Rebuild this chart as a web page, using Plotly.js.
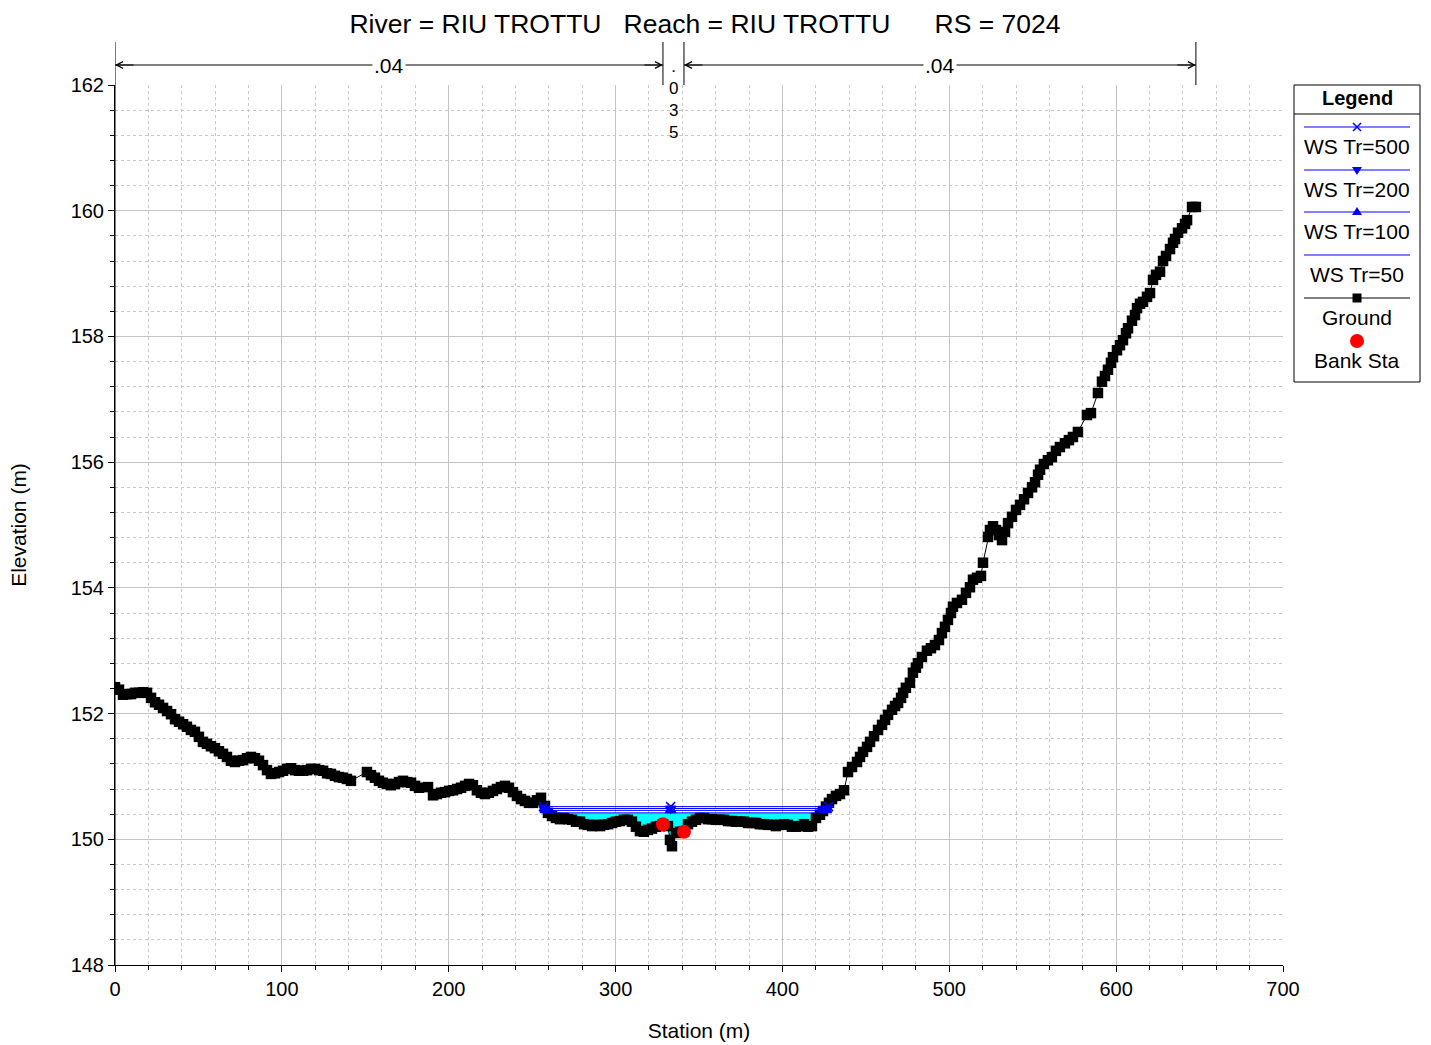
<!DOCTYPE html>
<html>
<head>
<meta charset="utf-8">
<script src="https://cdn.plot.ly/plotly-3.0.1.min.js"></script>
<style>html,body{margin:0;padding:0;background:#fff;}#chart{width:1431px;height:1045px;}</style>
</head>
<body>
<div id="chart"></div>
<script>
// ---------------- DATA ----------------
const chartTitle = "River = RIU TROTTU\u00a0\u00a0\u00a0Reach = RIU TROTTU\u00a0\u00a0\u00a0\u00a0\u00a0\u00a0RS = 7024";

const groundStation = [
  0, 2.4, 4.8, 7.2, 9.6, 12.0, 14.4, 16.8, 19.2, 21.6, 24.0, 26.4, 28.8, 31.2, 33.6, 36.0, 38.4, 40.8, 43.1, 45.5,
  47.9, 50.3, 52.7, 55.1, 57.5, 59.9, 62.3, 64.7, 67.1, 69.5, 71.9, 74.3, 76.7, 79.1, 81.5, 83.9, 86.3, 88.7, 91.1, 93.5,
  95.9, 98.3, 100.7, 103.1, 105.5, 107.9, 110.3, 112.7, 115.1, 117.5, 119.9, 122.3, 124.7, 127.1, 129.4, 131.8, 134.2, 136.6, 139.0, 141.4,
  151.0, 153.4, 155.8, 158.2, 160.6, 163.0, 165.4, 167.8, 170.2, 172.6, 175.0, 177.4, 179.8, 182.2, 187.6, 190.6, 193.0, 195.4, 197.8, 200.2,
  202.6, 205.0, 207.4, 209.8, 212.2, 214.5, 216.9, 219.3, 221.7, 224.1, 226.5, 228.9, 231.3, 233.7, 236.1, 238.5, 240.9, 243.3, 245.7, 248.1,
  250.5, 252.9, 255.3, 257.7, 259.5, 261.9, 264.3, 266.7, 269.1, 271.5, 273.9, 276.3, 278.7, 281.1, 283.5, 285.9, 288.3, 290.7, 293.1, 295.5,
  297.9, 300.2, 302.6, 305.0, 307.4, 309.8, 312.2, 314.6, 317.0, 319.4, 321.8, 324.2, 326.6, 328.4, 331.4, 332.6, 333.8, 336.2, 338.6, 341.0,
  343.4, 345.8, 348.2, 350.6, 353.0, 355.4, 357.8, 360.2, 362.6, 365.0, 367.4, 369.8, 372.2, 374.6, 377.0, 379.4, 381.8, 384.2, 386.5, 388.9,
  391.3, 393.7, 396.1, 398.5, 400.9, 403.3, 405.7, 408.1, 410.5, 412.9, 415.3, 417.7, 420.1, 422.5, 424.3, 426.1, 427.9, 429.7, 432.1, 434.5,
  436.9, 439.3, 441.7, 444.7, 446.5, 448.3, 450.7, 452.5, 454.9, 457.3, 459.7, 461.5, 463.3, 465.7, 467.5, 469.3, 471.1, 472.3, 474.0, 476.4,
  478.2, 480.0, 481.2, 483.6, 486.6, 489.0, 491.4, 493.8, 495.6, 497.4, 499.2, 501.0, 502.2, 504.6, 507.6, 510.0, 512.4, 514.2, 516.6, 519.0,
  520.2, 523.2, 524.4, 526.2, 528.0, 529.8, 531.6, 533.4, 535.2, 537.6, 540.0, 542.4, 544.8, 547.2, 549.6, 551.4, 553.2, 554.4, 556.7, 559.1,
  561.5, 563.9, 566.3, 569.3, 571.7, 574.1, 577.1, 582.5, 584.9, 589.1, 591.5, 593.3, 595.1, 596.9, 598.1, 600.5, 602.3, 604.1, 605.9, 607.1,
  609.5, 611.3, 612.5, 614.3, 616.1, 618.5, 620.3, 622.1, 623.9, 626.3, 628.1, 629.9, 632.3, 634.1, 635.3, 637.1, 639.5, 641.3, 642.5, 645.5,
  647.8
];
const groundElev = [
  152.42, 152.38, 152.30, 152.31, 152.31, 152.33, 152.33, 152.34, 152.33, 152.25, 152.18, 152.14, 152.09, 152.04, 151.99, 151.91, 151.87, 151.83, 151.79, 151.74,
  151.71, 151.63, 151.55, 151.52, 151.48, 151.45, 151.40, 151.36, 151.31, 151.25, 151.23, 151.25, 151.26, 151.29, 151.31, 151.29, 151.25, 151.18, 151.10, 151.04,
  151.05, 151.07, 151.09, 151.12, 151.13, 151.10, 151.09, 151.09, 151.10, 151.12, 151.12, 151.10, 151.09, 151.05, 151.04, 151.01, 150.99, 150.98, 150.96, 150.93,
  151.07, 151.02, 150.98, 150.93, 150.90, 150.88, 150.86, 150.88, 150.91, 150.93, 150.91, 150.90, 150.85, 150.82, 150.83, 150.70, 150.72, 150.74, 150.75, 150.77,
  150.78, 150.80, 150.82, 150.85, 150.88, 150.86, 150.78, 150.74, 150.72, 150.74, 150.77, 150.80, 150.83, 150.85, 150.82, 150.75, 150.69, 150.64, 150.61, 150.58,
  150.58, 150.62, 150.66, 150.53, 150.42, 150.37, 150.34, 150.32, 150.34, 150.32, 150.31, 150.28, 150.28, 150.24, 150.23, 150.21, 150.23, 150.21, 150.23, 150.24,
  150.26, 150.28, 150.29, 150.31, 150.31, 150.28, 150.20, 150.13, 150.12, 150.15, 150.17, 150.20, 150.21, 150.24, 150.21, 149.99, 149.89, 150.10, 150.12, 150.12,
  150.24, 150.28, 150.31, 150.34, 150.34, 150.32, 150.32, 150.31, 150.31, 150.31, 150.29, 150.29, 150.28, 150.28, 150.28, 150.26, 150.26, 150.26, 150.24, 150.24,
  150.23, 150.23, 150.21, 150.23, 150.24, 150.23, 150.20, 150.20, 150.21, 150.24, 150.20, 150.21, 150.34, 150.39, 150.45, 150.52, 150.58, 150.64, 150.69, 150.72,
  150.78, 151.07, 151.15, 151.23, 151.31, 151.39, 151.47, 151.55, 151.64, 151.74, 151.82, 151.90, 151.98, 152.06, 152.12, 152.17, 152.25, 152.33, 152.41, 152.49,
  152.65, 152.73, 152.80, 152.90, 153.00, 153.04, 153.09, 153.17, 153.28, 153.38, 153.49, 153.60, 153.70, 153.76, 153.81, 153.92, 154.01, 154.13, 154.16, 154.19,
  154.40, 154.81, 154.92, 154.98, 154.92, 154.84, 154.76, 154.89, 155.03, 155.13, 155.24, 155.32, 155.41, 155.51, 155.60, 155.68, 155.80, 155.88, 155.97, 156.03,
  156.08, 156.18, 156.24, 156.30, 156.35, 156.40, 156.48, 156.75, 156.78, 157.10, 157.28, 157.37, 157.47, 157.58, 157.67, 157.78, 157.86, 157.94, 158.05, 158.13,
  158.25, 158.34, 158.45, 158.52, 158.55, 158.63, 158.69, 158.90, 158.98, 159.03, 159.20, 159.28, 159.39, 159.49, 159.55, 159.65, 159.72, 159.79, 159.85, 160.06,
  160.06
];

const bankStation = [328.4, 341.0];
const bankElev = [150.24, 150.12];

const wsNames = ["WS Tr=500", "WS Tr=200", "WS Tr=100", "WS Tr=50"];
const wsElev = [150.52, 150.49, 150.46, 150.42];
const wsLeft = [256.8, 257.3, 257.9, 258.6];
const wsMid = [333.0, 333.0, 333.0, 333.0];
const wsRight = [427.6, 427.0, 426.4, 425.6];
const wsSymbols = ["x-thin-open", "triangle-down", "triangle-up", null];

const nBreaks = [0, 328.4, 341.0, 647.8];
const nValues = [".04", ".035", ".04"];

const legendItems = ["WS Tr=500", "WS Tr=200", "WS Tr=100", "WS Tr=50", "Ground", "Bank Sta"];

// ---------------- TRACES ----------------
const traces = [];

// water fill (lowest profile) between ground and water surface
(function () {
  const lvl = wsElev[3], L = wsLeft[3], R = wsRight[3];
  const fx = [L], fy = [lvl];
  for (let i = 0; i < groundStation.length; i++) {
    if (groundStation[i] > L && groundStation[i] < R) {
      fx.push(groundStation[i]);
      fy.push(Math.min(groundElev[i], lvl));
    }
  }
  fx.push(R); fy.push(lvl); fx.push(L); fy.push(lvl);
  traces.push({x: fx, y: fy, type: "scatter", mode: "lines", fill: "toself",
    fillcolor: "#00ffff", line: {width: 0, color: "#00ffff"}, hoverinfo: "skip", showlegend: false});
})();

traces.push({x: groundStation, y: groundElev, type: "scatter", mode: "lines+markers", name: "Ground",
  showlegend: false, line: {color: "#000", width: 1}, marker: {symbol: "square", size: 10.5, color: "#000"}});

for (let k = wsNames.length - 1; k >= 0; k--) {
  const t = {
    x: [wsLeft[k], wsMid[k], wsRight[k]],
    y: [wsElev[k], wsElev[k], wsElev[k]],
    type: "scatter", name: wsNames[k], showlegend: false,
    line: {color: "#0000ff", width: 1},
    mode: wsSymbols[k] ? "lines+markers" : "lines"
  };
  if (wsSymbols[k]) t.marker = {symbol: wsSymbols[k], size: 9, color: "#0000ff", line: {color: "#0000ff", width: 1.5}};
  traces.push(t);
}

traces.push({x: bankStation, y: bankElev, type: "scatter", mode: "markers", name: "Bank Sta",
  showlegend: false, marker: {symbol: "circle", size: 14, color: "#ff0000"}});

// ---------------- LAYOUT helpers ----------------
const W = 1431, H = 1045, ML = 115, MR = 148, MT = 85, MB = 80;
const PW = W - ML - MR, PH = H - MT - MB;
const px2paperX = p => (p - ML) / PW;
const px2paperY = p => (H - MB - p) / PH;

const shapes = [];
const annotations = [];
const F = "Liberation Sans, Arial, sans-serif";

function txt(xref, x, y, text, font, extra) {
  return Object.assign({xref: xref, yref: "paper", x: x, y: y, text: text, showarrow: false,
    xanchor: "center", yanchor: "middle", font: font}, extra || {});
}

// n-value brackets above the plot
const yTopLine = px2paperY(42), yArrow = px2paperY(65);
for (let i = 0; i < nBreaks.length; i++) {
  shapes.push({type: "line", xref: "x", yref: "paper", x0: nBreaks[i], x1: nBreaks[i], y0: i === 0 ? 0 : 1, y1: yTopLine,
    line: {color: "#000", width: 1}});
}
const nFont = {family: F, size: 21, color: "#000"};
for (let i = 0; i < nValues.length; i++) {
  const a = nBreaks[i], b = nBreaks[i + 1];
  if (i === 1) {
    // narrow zone: value written vertically, one character per line
    annotations.push(txt("x", (a + b) / 2, px2paperY(55), nValues[i].split("").join("<br>"),
      {family: F, size: 17, color: "#000"}, {yanchor: "top"}));
    continue;
  }
  shapes.push({type: "line", xref: "x", yref: "paper", x0: a, x1: b, y0: yArrow, y1: yArrow, line: {color: "#000", width: 1}});
  annotations.push(txt("x", (a + b) / 2, yArrow, nValues[i], nFont, {bgcolor: "#fff", borderpad: 1}));
  annotations.push({xref: "x", yref: "paper", x: a, y: yArrow, text: "", showarrow: true, ax: 20, ay: 0,
    axref: "pixel", ayref: "pixel", arrowhead: 5, arrowsize: 1.3, arrowwidth: 1, arrowcolor: "#000"});
  annotations.push({xref: "x", yref: "paper", x: b, y: yArrow, text: "", showarrow: true, ax: -20, ay: 0,
    axref: "pixel", ayref: "pixel", arrowhead: 5, arrowsize: 1.3, arrowwidth: 1, arrowcolor: "#000"});
}

// custom legend box
const lgL = px2paperX(1294), lgR = px2paperX(1420), lgC = px2paperX(1357);
const lnL = px2paperX(1304), lnR = px2paperX(1410);
shapes.push({type: "rect", xref: "paper", yref: "paper", x0: lgL, x1: lgR, y0: px2paperY(382), y1: px2paperY(85),
  line: {color: "#000", width: 1}, fillcolor: "rgba(0,0,0,0)", layer: "above"});
shapes.push({type: "line", xref: "paper", yref: "paper", x0: lgL, x1: lgR, y0: px2paperY(114), y1: px2paperY(114),
  line: {color: "#000", width: 1}});
annotations.push(txt("paper", lgC, px2paperY(98), "<b>Legend</b>", {family: F, size: 20, color: "#000"}));
const lineY = [127, 170, 212, 255, 298, 341];
const textY = [146, 189, 232, 274, 317, 360];
// legend symbols as pixel-sized shapes (y grows upward in pixel mode)
const symPath = [
  "M-4,-4L4,4M-4,4L4,-4",
  "M-5,4L5,4L0,-4Z",
  "M-5,-4L5,-4L0,4Z",
  "",
  "M-4.5,-4.5L4.5,-4.5L4.5,4.5L-4.5,4.5Z",
  "circle"
];
const symColor = ["#0000ff", "#0000ff", "#0000ff", "", "#000", "#ff0000"];
const symDy = [0, 1, -1, 0, 0, 0];
for (let i = 0; i < legendItems.length; i++) {
  if (i < 5) {
    shapes.push({type: "line", xref: "paper", yref: "paper", x0: lnL, x1: lnR, y0: px2paperY(lineY[i]), y1: px2paperY(lineY[i]),
      line: {color: i < 4 ? "#0000ff" : "#000", width: 1}, layer: "above"});
  }
  const ya = px2paperY(lineY[i] + symDy[i]);
  if (symPath[i] === "circle") {
    shapes.push({type: "circle", xref: "paper", yref: "paper", xsizemode: "pixel", ysizemode: "pixel",
      xanchor: lgC, yanchor: ya, x0: -7, x1: 7, y0: -7, y1: 7, fillcolor: symColor[i], line: {width: 0}, layer: "above"});
  } else if (symPath[i]) {
    const open = i === 0;
    shapes.push({type: "path", xref: "paper", yref: "paper", xsizemode: "pixel", ysizemode: "pixel",
      xanchor: lgC, yanchor: ya, path: symPath[i], fillcolor: open ? "rgba(0,0,0,0)" : symColor[i],
      line: {color: symColor[i], width: open ? 1.5 : 0}, layer: "above"});
  }
  annotations.push(txt("paper", lgC, px2paperY(textY[i]), legendItems[i], {family: F, size: 21, color: "#000"}));
}

const axisCommon = {
  showgrid: true, gridcolor: "#c4c4c4", gridwidth: 1, zeroline: false,
  showline: true, linecolor: "#000", linewidth: 1,
  ticks: "outside", ticklen: 6, tickcolor: "#000", tickwidth: 1,
  tickfont: {family: F, size: 20, color: "#000"}
};
const minorCommon = {showgrid: true, gridcolor: "#c8c8c8", griddash: "3px,3px", ticks: "outside", ticklen: 4, tickcolor: "#000"};

const layout = {
  width: W, height: H,
  margin: {l: ML, r: MR, t: MT, b: MB, pad: 0},
  paper_bgcolor: "#fff", plot_bgcolor: "#fff",
  font: {family: F, size: 20, color: "#000"},
  showlegend: false,
  title: {text: chartTitle, font: {family: F, size: 26.5, color: "#000"}, xref: "paper", x: px2paperX(705), xanchor: "center",
    yref: "container", y: 1 - 24 / H, yanchor: "middle"},
  xaxis: Object.assign({}, axisCommon, {
    range: [0, 700], tick0: 0, dtick: 100,
    minor: Object.assign({dtick: 20}, minorCommon),
    title: {text: "Station (m)", font: {family: F, size: 21, color: "#000"}, standoff: 24}
  }),
  yaxis: Object.assign({}, axisCommon, {
    range: [148, 162], tick0: 148, dtick: 2,
    minor: Object.assign({dtick: 0.4}, minorCommon),
    title: {text: "Elevation (m)", font: {family: F, size: 21, color: "#000"}, standoff: 38}
  }),
  shapes: shapes,
  annotations: annotations
};

Plotly.newPlot("chart", traces, layout, {displayModeBar: false, staticPlot: true});
</script>
</body>
</html>
